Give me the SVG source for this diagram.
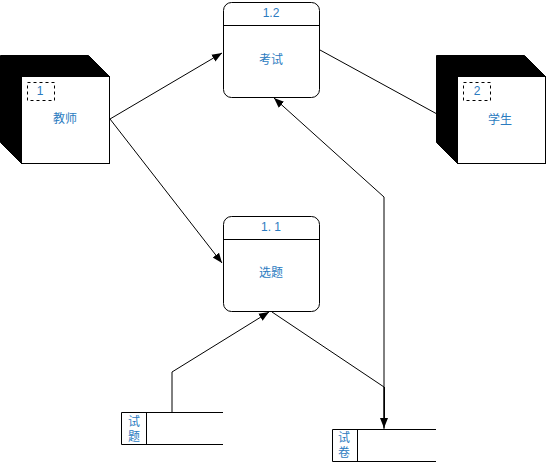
<svg xmlns="http://www.w3.org/2000/svg" width="547" height="463" viewBox="0 0 547 463">
  <style>
    .line { fill: none; stroke: #000; stroke-width: 1; }
    .box { fill: #fff; stroke: #000; stroke-width: 1; }
    .side { fill: #000; stroke: #000; stroke-width: 1; }
    .tag { fill: none; stroke: #000; stroke-width: 1; stroke-dasharray: 3 3; }
    .txt { font-family: "Liberation Sans", "Noto Sans CJK SC", sans-serif; font-size: 12px; fill: #2B7BBF; text-anchor: middle; dominant-baseline: central; }
  </style>
  <defs>
    <marker id="arrow" viewBox="0 0 10 10" refX="10" refY="5" markerWidth="10" markerHeight="10" markerUnits="userSpaceOnUse" orient="auto">
      <path d="M0,1 L10,5 L0,9 Z" fill="#000"/>
    </marker>
  </defs>

  <rect x="0" y="0" width="547" height="463" fill="#fff"/>

  <!-- connectors -->
  <g id="connectors">
    <line class="line" x1="110" y1="119" x2="222" y2="53" marker-end="url(#arrow)"/>
    <line class="line" x1="110" y1="119" x2="222" y2="263" marker-end="url(#arrow)"/>
    <line class="line" x1="320" y1="50" x2="437" y2="114"/>
    <polyline class="line" points="384,429 384,197 274,98" marker-end="url(#arrow)"/>
    <polyline class="line" points="272,312 384,387 384,428" marker-end="url(#arrow)"/>
    <line class="line" x1="384.5" y1="387" x2="384.5" y2="420"/>
    <polyline class="line" points="172,412 172,372 269,312" marker-end="url(#arrow)"/>
  </g>

  <!-- external entity: teacher -->
  <g id="teacher">
    <path class="side" d="M0.5,55.5 L88.5,55.5 L109.5,76.5 L21.5,76.5 L21.5,163.5 L0.5,142.5 Z"/>
    <rect class="box" x="21.5" y="76.5" width="88" height="87"/>
    <rect class="tag" x="27.5" y="82.5" width="27" height="18"/>
    <text class="txt" x="40" y="91">1</text>
    <text class="txt" x="65" y="119">教师</text>
  </g>

  <!-- external entity: student -->
  <g id="student">
    <path class="side" d="M436.5,55.5 L524.5,55.5 L545.5,76.5 L457.5,76.5 L457.5,163.5 L436.5,142.5 Z"/>
    <rect class="box" x="457.5" y="76.5" width="88" height="87"/>
    <rect class="tag" x="463.5" y="82.5" width="27" height="18"/>
    <text class="txt" x="477" y="91">2</text>
    <text class="txt" x="500" y="120">学生</text>
  </g>

  <!-- process 1.2 -->
  <g id="exam">
    <rect class="box" x="223.5" y="2.5" width="96" height="95" rx="8" ry="8"/>
    <line class="line" x1="223.5" y1="25.5" x2="319.5" y2="25.5"/>
    <text class="txt" x="271" y="13">1.2</text>
    <text class="txt" x="271" y="60">考试</text>
  </g>

  <!-- process 1.1 -->
  <g id="select">
    <rect class="box" x="223.5" y="216.5" width="96" height="95" rx="8" ry="8"/>
    <line class="line" x1="223.5" y1="239.5" x2="319.5" y2="239.5"/>
    <text class="txt" x="271" y="227">1. 1</text>
    <text class="txt" x="271" y="273">选题</text>
  </g>

  <!-- data store: questions -->
  <g id="questions">
    <polyline class="line" points="223,412.5 121.5,412.5 121.5,444.5 223,444.5"/>
    <line class="line" x1="146.5" y1="412.5" x2="146.5" y2="444.5"/>
    <text class="txt" x="134" y="422">试</text>
    <text class="txt" x="134" y="437">题</text>
  </g>

  <!-- data store: papers -->
  <g id="papers">
    <polyline class="line" points="436,429.5 332.5,429.5 332.5,461.5 436,461.5"/>
    <line class="line" x1="357.5" y1="429.5" x2="357.5" y2="461.5"/>
    <text class="txt" x="344" y="438">试</text>
    <text class="txt" x="344" y="453">卷</text>
  </g>
</svg>
